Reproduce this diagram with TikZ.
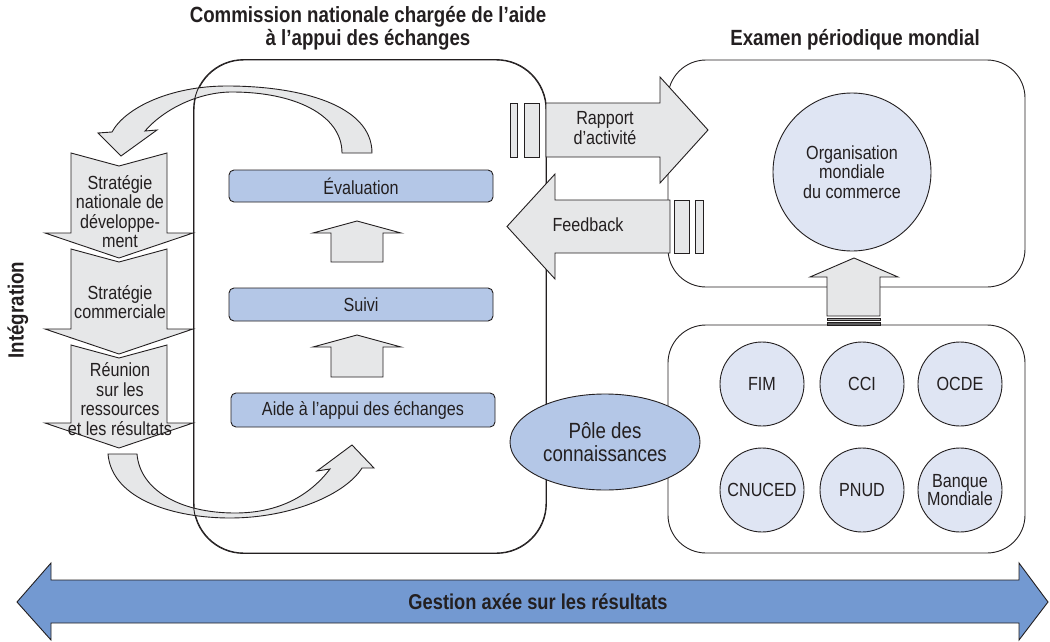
\documentclass[tikz,border=0pt]{standalone}
\usepackage{fontspec}
\setmainfont[FakeStretch=0.85]{Liberation Sans}
\usetikzlibrary{shapes.geometric}
\definecolor{linec}{HTML}{231F20}
\definecolor{txt}{HTML}{231F20}
\definecolor{arrowgray}{HTML}{E6E7E8}
\definecolor{barblue}{HTML}{B4C7E7}
\definecolor{circblue}{HTML}{DFE5F3}
\definecolor{bigblue}{HTML}{7399D1}
\newcommand\myfs{\fontsize{19}{19.5}\selectfont}
\newcommand\myttl{\fontsize{22}{23}\selectfont\bfseries}
\begin{document}
\begin{tikzpicture}[x=1pt,y=-1pt,
  shp/.style={draw=linec, line width=0.9pt, line join=miter},
  grayshp/.style={shp, fill=arrowgray},
  box/.style={draw=linec, line width=0.9pt, fill=white, inner sep=0pt},
  bar/.style={draw=linec, fill=barblue, rounded corners=5pt, line width=0.9pt, inner sep=0pt, text=txt, font=\myfs},
  circ/.style={circle, draw=linec, line width=0.9pt, fill=circblue, minimum size=84pt, inner sep=0pt, align=center, text=txt, font=\myfs},
  lab/.style={align=center, text=txt, font=\myfs, inner sep=0pt},
  ttl/.style={align=center, text=txt, font=\myttl, inner sep=0pt}]
\useasboundingbox (0,0) rectangle (1050,642);

% boxes
\node[box, rounded corners=50pt, minimum width=352pt, minimum height=493pt] (cbox) at (370,306.5) {};
\node[box, rounded corners=38pt, minimum width=357pt, minimum height=227pt] (ebox) at (846.5,173.5) {};
\node[box, rounded corners=38pt, minimum width=357pt, minimum height=228pt] (obox) at (846.5,439) {};

% chevrons
\draw[grayshp] (71,153) -- (119,166) -- (167,153) -- (167,233) -- (193,233) -- (119,258) -- (45,233) -- (71,233) -- cycle;
\draw[grayshp] (71,249) -- (119,262) -- (167,249) -- (167,329) -- (193,329) -- (119,354) -- (45,329) -- (71,329) -- cycle;
\draw[grayshp] (71,345) -- (119,358) -- (167,345) -- (167,423) -- (193,423) -- (119,448) -- (45,423) -- (71,423) -- cycle;
\node[lab] (c1) at (120,211.5) {Stratégie\\nationale de\\développe-\\ment};
\node[lab] (c2) at (120,302) {Stratégie\\commerciale};
\node[lab] (c3) at (120,399) {Réunion\\sur les\\ressources\\et les résultats};

% curved arrows
\draw[grayshp] (372,153) .. controls (372,105) and (300,86) .. (227,86) .. controls (170,86) and (125,108) .. (112,132) -- (98,133) -- (121,156) -- (157,130) -- (145,131) .. controls (165,108) and (200,92) .. (232,92) .. controls (295,92) and (342,115) .. (342,153) -- cycle;
\draw[grayshp] (108,454) .. controls (112,500) and (175,518) .. (230,518) .. controls (290,518) and (345,495) .. (362,468) -- (374,468) -- (352,445) -- (317,471) -- (330,469) .. controls (310,495) and (280,513) .. (235,513) .. controls (180,513) and (140,490) .. (137,454) -- cycle;
\draw[shp, rounded corners=50pt] (cbox.south west) rectangle (cbox.north east);

% bars and up arrows
\node[bar, minimum width=264pt, minimum height=32pt] (eval) at (361,186) {Évaluation};
\node[bar, minimum width=264pt, minimum height=33pt] (suivi) at (361,304.5) {Suivi};
\node[bar, minimum width=264pt, minimum height=34pt] (aide) at (363,410) {Aide à l’appui des échanges};
\draw[grayshp] (331,262) -- (331,233) -- (313,233) -- (357,221) -- (401,233) -- (383,233) -- (383,262) -- cycle;
\draw[grayshp] (331,377) -- (331,347) -- (313,347) -- (357,335) -- (401,347) -- (383,347) -- (383,377) -- cycle;

% Rapport / Feedback arrows
\draw[grayshp] (510,103) rectangle (517,157);
\draw[grayshp] (524,103) rectangle (539,157);
\draw[grayshp] (546,103) -- (660,103) -- (660,77) -- (708,130) -- (660,183) -- (660,157) -- (546,157) -- cycle;
\node[lab] (rap) at (605,128) {Rapport\\d’activité};
\draw[grayshp] (670,200) -- (555,200) -- (555,174) -- (507,226.5) -- (555,279) -- (555,253) -- (670,253) -- cycle;
\draw[grayshp] (674,200) rectangle (689,253);
\draw[grayshp] (695,200) rectangle (703,253);
\node[lab] (feed) at (588,225) {Feedback};

% right side
\node[circ, minimum size=158pt] (omc) at (852,172) {Organisation\\mondiale\\du commerce};
\draw[grayshp] (827,316) -- (827,277) -- (810,277) -- (854,258) -- (898,277) -- (880,277) -- (880,316) -- cycle;
\draw[shp, fill=arrowgray!70!black, line width=0.6pt] (827,318) rectangle (880,320.5);
\draw[shp, fill=arrowgray!40!black, line width=0.6pt] (827,322) rectangle (880,325);
\node[circ] (fim) at (762,384) {FIM};
\node[circ] (cci) at (862,384) {CCI};
\node[circ] (ocde) at (960,384) {OCDE};
\node[circ] (cnuced) at (762,490) {CNUCED};
\node[circ] (pnud) at (862,490) {PNUD};
\node[circ, font=\fontsize{19}{17}\selectfont] (bm) at (960,490) {Banque\\Mondiale};
\node[ellipse, draw=linec, line width=0.9pt, fill=barblue, minimum width=190pt, minimum height=96pt, inner sep=0pt, align=center, text=txt, font=\fontsize{22}{23}\selectfont] (pole) at (605,442) {Pôle des\\connaissances};

% bottom double arrow
\draw[shp, fill=bigblue] (17,602) -- (51,563) -- (51,580) -- (1019,580) -- (1019,563) -- (1048,602) -- (1019,640) -- (1019,623) -- (51,623) -- (51,640) -- cycle;
\node[ttl, font=\fontsize{21.5}{22}\selectfont\bfseries] (gest) at (538,602) {Gestion axée sur les résultats};

% titles
\node[ttl] (t1) at (368,28.5) {Commission nationale chargée de l’aide\\à l’appui des échanges};
\node[ttl] (t2) at (855,40) {Examen périodique mondial};
\node[ttl, rotate=90] (integ) at (18,310) {Intégration};
\end{tikzpicture}
\end{document}
